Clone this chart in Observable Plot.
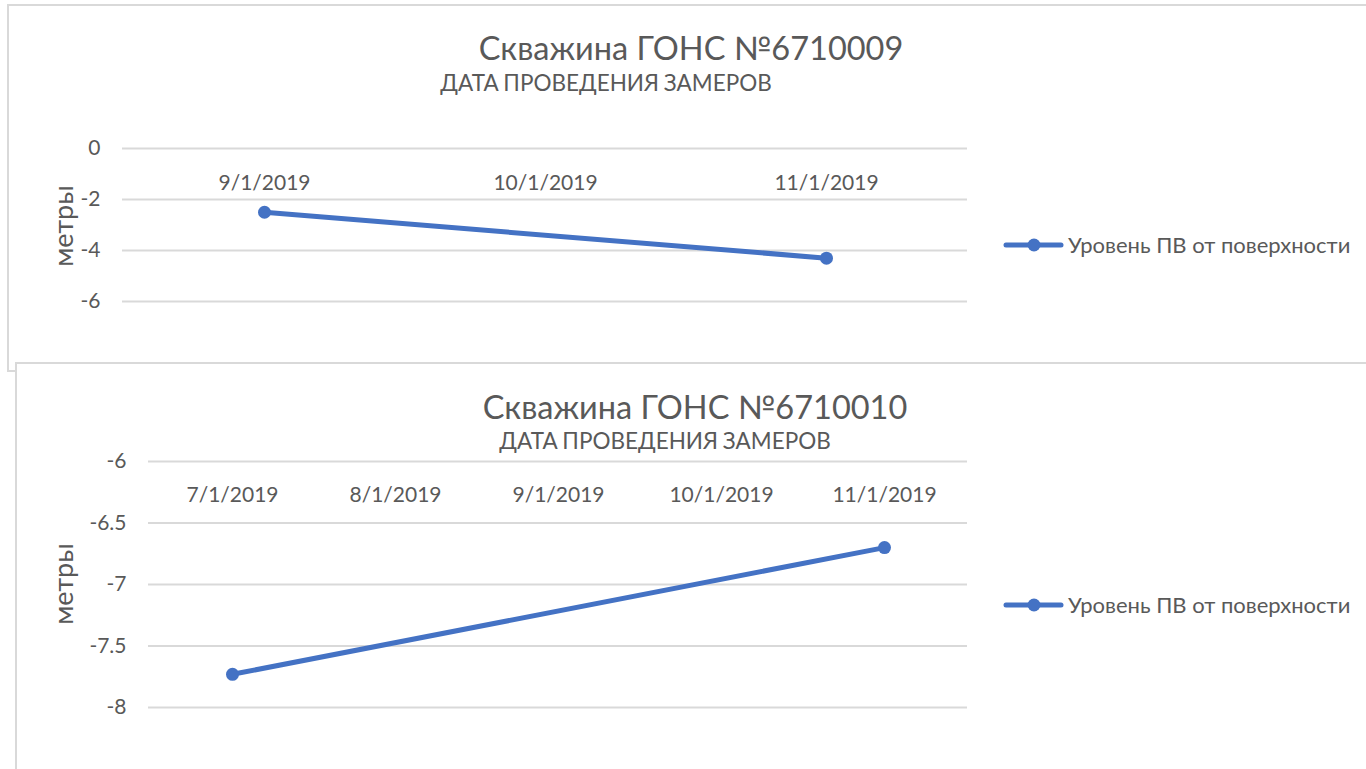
<!DOCTYPE html>
<html>
<head>
<meta charset="utf-8">
<script src="https://cdn.jsdelivr.net/npm/d3@7"></script>
<script src="https://cdn.jsdelivr.net/npm/@observablehq/plot@0.6"></script>
<style>
  body { margin:0; background:#fff; width:1366px; height:769px; overflow:hidden; position:relative; font-family: Lato, "Open Sans", sans-serif; }
  .panel { position:absolute; border:2px solid #d9d9d9; background:#fff; box-sizing:border-box; }
  .abs { position:absolute; color:#595959; white-space:nowrap; }
  .title { font-size:32.5px; line-height:32px; transform:translateX(-50%); }
  .sub { font-size:22.5px; line-height:22px; transform:translateX(-50%); word-spacing:-1px; }
  .ylab { font-size:27px; line-height:27px; transform:translate(-50%,-50%) rotate(-90deg); }
  .leg { font-size:22px; line-height:28px; display:flex; align-items:center; }
</style>
</head>
<body>
<script>
// ---- data ----
const title1 = "Скважина ГОНС №6710009";
const title2 = "Скважина ГОНС №6710010";
const xTitle = "ДАТА ПРОВЕДЕНИЯ ЗАМЕРОВ";
const yTitle = "метры";
const seriesName = "Уровень ПВ от поверхности";

const dates1 = ["9/1/2019", "10/1/2019", "11/1/2019"];
const values1 = [-2.5, null, -4.3];
const yTicks1 = [0, -2, -4, -6];

const dates2 = ["7/1/2019", "8/1/2019", "9/1/2019", "10/1/2019", "11/1/2019"];
const values2 = [-7.73, null, null, null, -6.7];
const yTicks2 = [-6, -6.5, -7, -7.5, -8];

const color = "#4472C4";
const textColor = "#595959";

function addDiv(cls, text, x, y) {
  const d = document.createElement("div");
  d.className = "abs " + cls;
  d.textContent = text;
  d.style.left = x + "px";
  d.style.top = y + "px";
  document.body.appendChild(d);
  return d;
}

function addPanel(l, t, w, h) {
  const d = document.createElement("div");
  d.className = "panel";
  Object.assign(d.style, {left: l + "px", top: t + "px", width: w + "px", height: h + "px"});
  document.body.appendChild(d);
}

function addLegend(x, y) {
  const d = document.createElement("div");
  d.className = "abs leg";
  d.style.left = x + "px";
  d.style.top = (y - 14) + "px";
  d.innerHTML = `<svg width="62" height="28"><line x1="3" x2="58" y1="14" y2="14" stroke="${color}" stroke-width="5" stroke-linecap="round"/><circle cx="31" cy="14" r="6.5" fill="${color}"/></svg><span style="margin-left:3px">${seriesName}</span>`;
  document.body.appendChild(d);
}

function chart(dates, values, ticks, domain, cfg) {
  const data = dates.map((d, i) => ({date: d, value: values[i]}));
  const pts = data.filter(d => d.value != null);
  const svg = Plot.plot({
    width: cfg.width, height: cfg.height,
    marginLeft: cfg.ml, marginRight: cfg.mr, marginTop: cfg.mt, marginBottom: cfg.mb,
    style: {fontFamily: "Lato, 'Open Sans', sans-serif", fontSize: "21px", color: textColor, background: "transparent", overflow: "visible"},
    x: {type: "point", domain: dates, padding: 0.5, label: null},
    y: {domain: domain, label: null, ticks: ticks},
    marks: [
      Plot.gridY(ticks, {stroke: "#d9d9d9", strokeOpacity: 1, strokeWidth: 2}),
      Plot.axisY(ticks, {tickSize: 0, tickPadding: 22, tickFormat: d => String(d), fill: textColor, label: null}),
      Plot.axisX({anchor: "top", tickSize: 0, tickPadding: 0, dy: cfg.xdy, fill: textColor, label: null}),
      Plot.line(pts, {x: "date", y: "value", stroke: color, strokeWidth: 5}),
      Plot.dot(pts, {x: "date", y: "value", r: 6.5, fill: color, stroke: "none"})
    ]
  });
  svg.style.position = "absolute";
  svg.style.left = cfg.left + "px";
  svg.style.top = cfg.top + "px";
  document.body.appendChild(svg);
}

// ---- panel 1 ----
addPanel(7, 4, 1400, 368);
addDiv("title", title1, 691, 32);
addDiv("sub", xTitle, 606, 72);
addDiv("ylab", yTitle, 62, 226);
chart(dates1, values1, yTicks1, [-6, 0], {left: 0, top: 120, width: 1000, height: 200, ml: 122, mr: 33, mt: 28, mb: 19, xdy: 41});
addLegend(1003, 245);

// ---- panel 2 ----
addPanel(15, 362, 1400, 420);
addDiv("title", title2, 695, 391);
addDiv("sub", xTitle, 665, 430);
addDiv("ylab", yTitle, 62, 584);
chart(dates2, values2, yTicks2, [-8, -6], {left: 0, top: 440, width: 1000, height: 290, ml: 148, mr: 33, mt: 21, mb: 23, xdy: 40});
addLegend(1003, 605);
</script>
</body>
</html>
